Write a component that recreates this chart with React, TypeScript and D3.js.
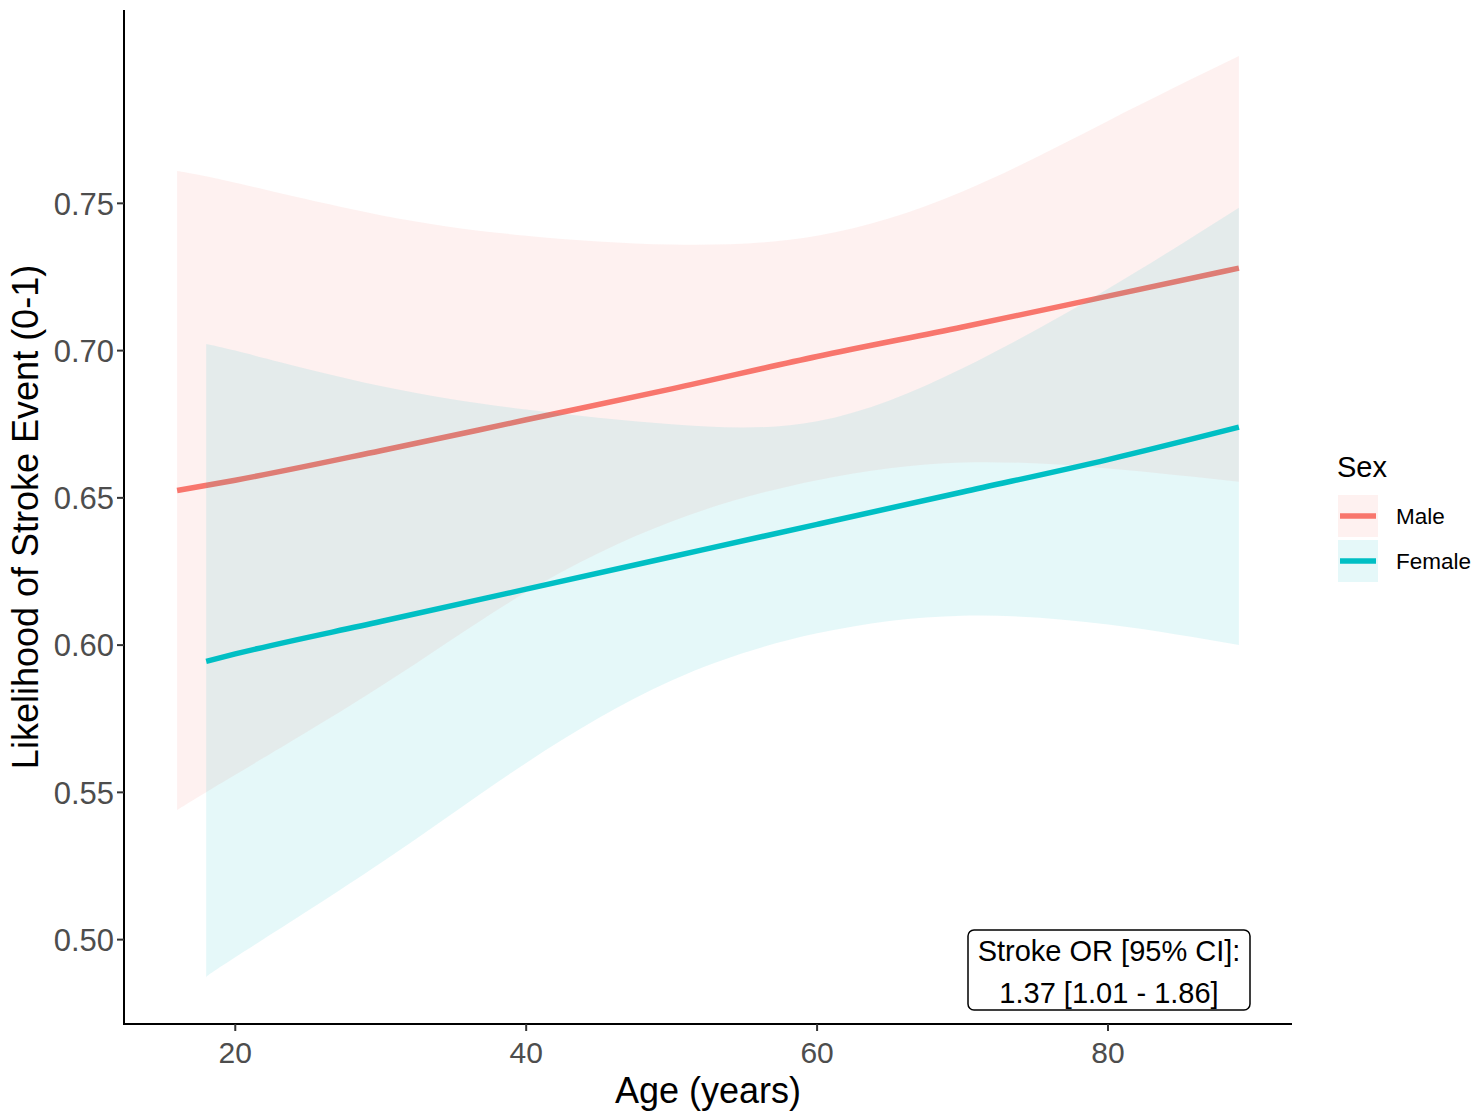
import React from "react";
import * as d3 from "d3";

// fitted values
const maleAges = [16, 20, 30, 40, 50, 60, 70, 80, 89];
const maleFit = [0.6525, 0.656, 0.666, 0.6765, 0.687, 0.698, 0.708, 0.7185, 0.728];
const maleLower = [0.544, 0.556, 0.586, 0.618, 0.642, 0.656, 0.662, 0.66, 0.6555];
const maleUpper = [0.761, 0.757, 0.746, 0.739, 0.736, 0.739, 0.754, 0.778, 0.8];

const femaleAges = [18, 20, 30, 40, 50, 60, 70, 80, 89];
const femaleFit = [0.5945, 0.597, 0.608, 0.619, 0.63, 0.641, 0.652, 0.663, 0.674];
const femaleLower = [0.487, 0.494, 0.526, 0.56, 0.588, 0.604, 0.61, 0.607, 0.6];
const femaleUpper = [0.702, 0.7, 0.688, 0.68, 0.675, 0.676, 0.694, 0.721, 0.7485];

const xTicks = [20, 40, 60, 80];
const yTicks = [0.5, 0.55, 0.6, 0.65, 0.7, 0.75];
const sexLabels = ["Male", "Female"];
const sexColors = ["#F8766D", "#00BFC4"];
const noteLines = ["Stroke OR [95% CI]:", "1.37 [1.01 - 1.86]"];

const W = 1477;
const H = 1119;
const panel = { left: 124, right: 1292, top: 10, bottom: 1024 };
const font = "'Liberation Sans', Arial, sans-serif";

function expand([a, b]: number[]) {
  const pad = (b - a) * 0.05;
  return [a - pad, b + pad];
}

export default function App() {
  const xExt = d3.extent([...maleAges, ...femaleAges]) as number[];
  const yExt = d3.extent([...maleLower, ...maleUpper, ...femaleLower, ...femaleUpper]) as number[];
  const x = d3.scaleLinear().domain(expand(xExt)).range([panel.left, panel.right]);
  const y = d3.scaleLinear().domain(expand(yExt)).range([panel.bottom, panel.top]);

  const groups = [
    { ages: maleAges, fit: maleFit, lo: maleLower, hi: maleUpper },
    { ages: femaleAges, fit: femaleFit, lo: femaleLower, hi: femaleUpper },
  ];

  const tick = "#333333";
  const tickText = "#4D4D4D";

  return (
    <svg width={W} height={H} style={{ position: "absolute", left: 0, top: 0, background: "#fff" }}>
      {groups.map((g, k) => {
        const idx = g.ages.map((_, i) => i);
        const band = d3
          .area<number>()
          .x((i) => x(g.ages[i]))
          .y0((i) => y(g.lo[i]))
          .y1((i) => y(g.hi[i]))
          .curve(d3.curveNatural)(idx);
        const line = d3
          .line<number>()
          .x((i) => x(g.ages[i]))
          .y((i) => y(g.fit[i]))
          .curve(d3.curveMonotoneX)(idx);
        return (
          <g key={k}>
            <path d={band ?? ""} fill={sexColors[k]} fillOpacity={0.1} stroke="none" />
            <path d={line ?? ""} fill="none" stroke={sexColors[k]} strokeWidth={5.5} strokeLinecap="butt" />
          </g>
        );
      })}

      {/* axes */}
      <line x1={panel.left} x2={panel.left} y1={panel.top} y2={panel.bottom + 1} stroke="#000" strokeWidth={2} />
      <line x1={panel.left - 1} x2={panel.right} y1={panel.bottom} y2={panel.bottom} stroke="#000" strokeWidth={2} />
      {yTicks.map((t) => (
        <g key={t}>
          <line x1={panel.left - 7} x2={panel.left} y1={y(t)} y2={y(t)} stroke={tick} strokeWidth={2} />
          <text x={panel.left - 10} y={y(t)} dy="0.36em" textAnchor="end" fontFamily={font} fontSize={31} fill={tickText}>
            {t.toFixed(2)}
          </text>
        </g>
      ))}
      {xTicks.map((t) => (
        <g key={t}>
          <line x1={x(t)} x2={x(t)} y1={panel.bottom} y2={panel.bottom + 7} stroke={tick} strokeWidth={2} />
          <text x={x(t)} y={panel.bottom + 39} textAnchor="middle" fontFamily={font} fontSize={30} fill={tickText}>
            {t}
          </text>
        </g>
      ))}
      <text x={708} y={1103} textAnchor="middle" fontFamily={font} fontSize={36} fill="#000">
        Age (years)
      </text>
      <text
        transform={`translate(38, ${(panel.top + panel.bottom) / 2}) rotate(-90)`}
        textAnchor="middle"
        fontFamily={font}
        fontSize={36}
        fill="#000"
      >
        Likelihood of Stroke Event (0-1)
      </text>

      {/* annotation */}
      <rect x={968} y={930} width={282} height={80} rx={6} fill="#fff" stroke="#000" strokeWidth={1.5} />
      {noteLines.map((s, i) => (
        <text key={s} x={1109} y={961 + i * 42} textAnchor="middle" fontFamily={font} fontSize={29} fill="#000">
          {s}
        </text>
      ))}

      {/* legend */}
      <text x={1337} y={477} fontFamily={font} fontSize={29} fill="#000">
        Sex
      </text>
      {sexLabels.map((s, i) => (
        <g key={s} transform={`translate(1338, ${495 + i * 45})`}>
          <rect width={40} height={42} fill={sexColors[i]} fillOpacity={0.1} />
          <line x1={2} x2={38} y1={21} y2={21} stroke={sexColors[i]} strokeWidth={5.5} />
          <text x={58} y={21} dy="0.36em" fontFamily={font} fontSize={22.5} fill="#000">
            {s}
          </text>
        </g>
      ))}
    </svg>
  );
}
